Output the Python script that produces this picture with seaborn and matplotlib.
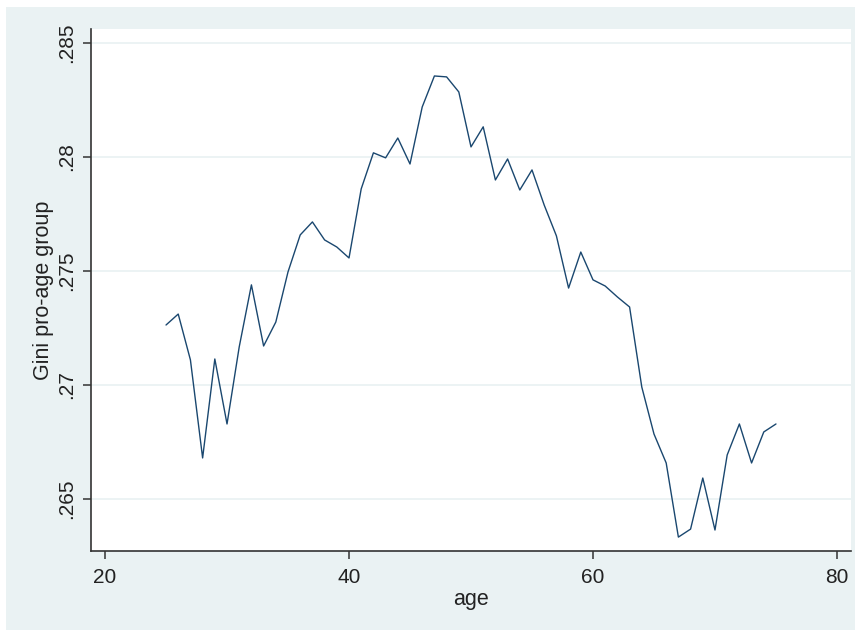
import matplotlib
matplotlib.use("Agg")
import matplotlib.pyplot as plt
from matplotlib.patches import Rectangle
from matplotlib.ticker import FixedLocator, FuncFormatter
import seaborn as sns
import pandas as pd

# Gini coefficient computed separately for each age group
ages = list(range(25, 76))
gini = [
    0.27263, 0.27311, 0.27110, 0.26680, 0.27114, 0.26829, 0.27167, 0.27439,
    0.27171, 0.27276, 0.27496, 0.27658, 0.27715, 0.27636, 0.27605, 0.27557,
    0.27860, 0.28018, 0.27996, 0.28083, 0.27969, 0.28219, 0.28355, 0.28351,
    0.28285, 0.28044, 0.28132, 0.27899, 0.27991, 0.27855, 0.27943, 0.27789,
    0.27654, 0.27425, 0.27583, 0.27461, 0.27434, 0.27386, 0.27342, 0.26991,
    0.26785, 0.26658, 0.26333, 0.26368, 0.26592, 0.26364, 0.26693, 0.26829,
    0.26658, 0.26794, 0.26829,
]
x_ticks = [20, 40, 60, 80]
y_ticks = [0.265, 0.27, 0.275, 0.28, 0.285]

df = pd.DataFrame({"age": ages, "gini": gini})

sns.set_theme(style="white")
plt.rcParams["font.family"] = ["Liberation Sans", "DejaVu Sans"]

BG = "#eaf2f3"
INK = "#222222"

fig = plt.figure(figsize=(8.55, 6.3), dpi=100, facecolor="white")
# graph region panel behind the plot
fig.patches.append(Rectangle((6 / 855, 0), 1.0, (630 - 7) / 630,
                             transform=fig.transFigure, facecolor=BG,
                             edgecolor="none", zorder=-10))

ax = fig.add_axes([91 / 855, 79 / 630, 760 / 855, 522 / 630])
ax.set_zorder(1)
ax.set_facecolor("white")

sns.lineplot(data=df, x="age", y="gini", ax=ax, color="#1a476f",
             linewidth=1.0, zorder=3)

ax.set_xlim(18.85, 81.15)
ax.set_ylim(0.26272, 0.28561)

ax.xaxis.set_major_locator(FixedLocator(x_ticks))
ax.yaxis.set_major_locator(FixedLocator(y_ticks))
ax.yaxis.set_major_formatter(
    FuncFormatter(lambda v, _: f"{v:.3f}".rstrip("0").lstrip("0")))

ax.grid(axis="y", color="#e9f1f2", linewidth=1.2, zorder=1)
ax.grid(axis="x", visible=False)

for side in ("top", "right"):
    ax.spines[side].set_visible(False)
for side in ("left", "bottom"):
    ax.spines[side].set_color("#333333")
    ax.spines[side].set_linewidth(1.2)

ax.tick_params(axis="both", which="major", direction="out", length=6,
               width=1.1, color="#333333", labelsize=15, labelcolor=INK,
               left=True, bottom=True)
ax.tick_params(axis="x", pad=6)
ax.tick_params(axis="y", pad=5)
for lab in ax.get_yticklabels():
    lab.set_rotation(90)
    lab.set_va("center")

ax.set_xlabel("age", fontsize=15.5, color=INK, labelpad=2)
ax.set_ylabel("Gini pro-age group", fontsize=15.5, color=INK, labelpad=2)

fig.savefig("out.png", dpi=100, facecolor=fig.get_facecolor())
